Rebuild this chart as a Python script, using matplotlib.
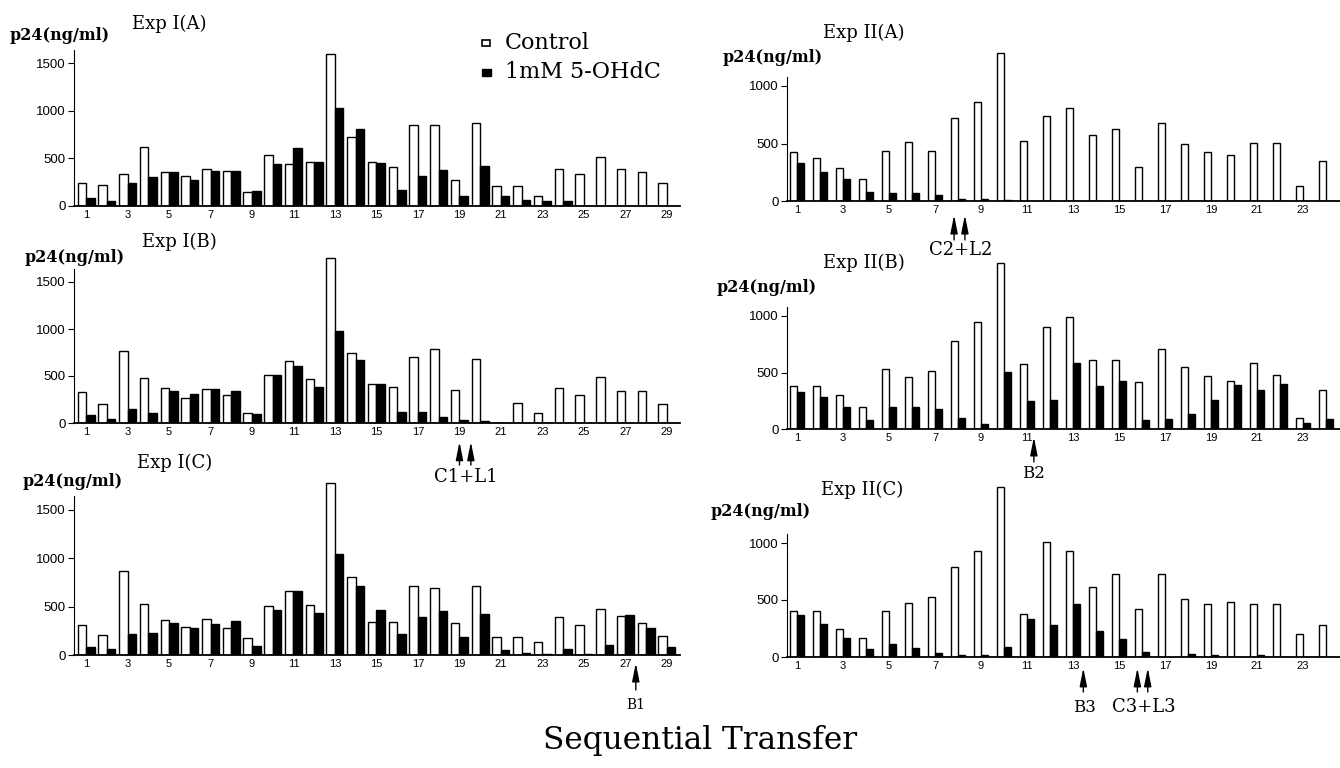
import matplotlib
matplotlib.use("Agg")
import matplotlib.pyplot as plt
from matplotlib.patches import Rectangle

# ---- data (p24 ng/ml per transfer) ----
cats_exp1 = list(range(1, 30))
cats_exp2 = list(range(1, 25))

ctrl_1a = [240, 220, 340, 620, 355, 310, 385, 370, 145, 530, 445, 465, 1600, 720, 458,
           405, 845, 845, 270, 870, 205, 205, 110, 385, 336, 517, 392, 360, 238]
trt_1a = [80, 55, 245, 300, 360, 270, 365, 367, 155, 440, 612, 458, 1025, 810, 450,
          165, 320, 380, 110, 420, 100, 65, 50, 55, 0, 0, 0, 0, 0]

ctrl_1b = [325, 207, 770, 482, 368, 268, 357, 296, 107, 511, 655, 468, 1750, 740, 411,
           379, 700, 790, 350, 680, 0, 210, 110, 370, 300, 485, 345, 345, 200]
trt_1b = [89, 46, 154, 107, 343, 307, 357, 339, 96, 511, 605, 379, 980, 665, 411,
          118, 118, 64, 28, 20, 0, 0, 0, 0, 0, 0, 0, 0, 0]

ctrl_1c = [310, 207, 872, 524, 359, 290, 369, 276, 172, 507, 662, 514, 1776, 810, 338,
           338, 714, 690, 328, 714, 185, 185, 138, 390, 314, 476, 407, 328, 200]
trt_1c = [79, 59, 214, 231, 328, 276, 317, 355, 97, 466, 662, 431, 1041, 717, 466,
          214, 390, 455, 190, 424, 52, 20, 14, 62, 14, 103, 414, 279, 79]

ctrl_2a = [423, 370, 283, 190, 437, 516, 431, 720, 860, 1285, 525, 743, 810, 574, 630,
           298, 680, 495, 428, 398, 502, 502, 134, 346]
trt_2a = [330, 248, 195, 82, 67, 73, 50, 15, 15, 6, 0, 0, 0, 0, 0,
          0, 0, 0, 0, 0, 0, 0, 0, 0]

ctrl_2b = [377, 377, 300, 195, 535, 460, 509, 780, 945, 1467, 571, 899, 991, 615, 615,
           420, 710, 550, 473, 426, 580, 479, 95, 349]
trt_2b = [326, 282, 195, 84, 195, 199, 178, 100, 44, 503, 251, 260, 586, 379, 426,
          83, 92, 136, 257, 388, 343, 399, 53, 89]

ctrl_2c = [406, 406, 247, 171, 406, 471, 524, 788, 926, 1494, 376, 1006, 926, 618, 726,
           418, 729, 509, 465, 485, 465, 465, 206, 285]
trt_2c = [365, 288, 171, 74, 112, 82, 35, 15, 18, 88, 329, 282, 465, 226, 159,
          44, 0, 24, 20, 0, 18, 0, 0, 0]

# ---- layout helpers (pixel coordinates of a 1340x768 canvas) ----
W, H = 1340, 768
SERIF = "DejaVu Serif"
SANS = "Liberation Sans"

fig = plt.figure(figsize=(W / 100, H / 100), dpi=100)
fig.patch.set_facecolor("white")


def fx(x):
    return x / W


def fy(y):
    return 1 - y / H


def make_panel(left, right, zero_y, ppu, ymax, xlim, cats, ctrl, trt,
               width, yticks, spine_top):
    h = ymax * ppu
    ax = fig.add_axes([fx(left), fy(zero_y), (right - left) / W, h / H])
    ax.bar([c - width / 2 for c in cats], ctrl, width, color="white",
           edgecolor="black", linewidth=1.0)
    ax.bar([c + width / 2 for c in cats], trt, width, color="black",
           edgecolor="black", linewidth=1.0)
    ax.set_xlim(*xlim)
    ax.set_ylim(0, ymax)
    for s in ("top", "right"):
        ax.spines[s].set_visible(False)
    ax.spines["bottom"].set_linewidth(1.3)
    ax.spines["left"].set_linewidth(0.8)
    ax.spines["left"].set_bounds(0, spine_top)
    ax.set_yticks(yticks)
    ax.set_xticks(cats[::2])
    ax.tick_params(axis="x", length=0, pad=3, labelsize=8)
    ax.tick_params(axis="y", length=4, width=0.8, labelsize=9.5, pad=2)
    for lab in ax.get_xticklabels() + ax.get_yticklabels():
        lab.set_family(SANS)
    ax.patch.set_visible(False)
    return ax


def up_arrow(ax, x, tip, tail):
    ax.annotate("", xy=(x, tip), xytext=(x, tail),
                arrowprops=dict(arrowstyle="-|>,head_length=1.1,head_width=0.22",
                                color="black", lw=1.0, shrinkA=0, shrinkB=0),
                annotation_clip=False)


def note(ax, x, y, s, size):
    ax.text(x, y, s, ha="center", va="center", fontsize=size,
            family=SERIF, clip_on=False)


left_xlim = (0.42, 29.63)
right_xlim = (0.565, 24.61)

ax1a = make_panel(74, 680, 206, 0.0953, 1800, left_xlim, cats_exp1, ctrl_1a, trt_1a,
                  0.41, [0, 500, 1000, 1500], 1640)
ax1b = make_panel(74, 680, 423, 0.094, 1800, left_xlim, cats_exp1, ctrl_1b, trt_1b,
                  0.41, [0, 500, 1000, 1500], 1640)
ax1c = make_panel(74, 680, 655, 0.0967, 1800, left_xlim, cats_exp1, ctrl_1c, trt_1c,
                  0.41, [0, 500, 1000, 1500], 1640)

ax2a = make_panel(787, 1340, 201, 0.115, 1550, right_xlim, cats_exp2, ctrl_2a, trt_2a,
                  0.32, [0, 500, 1000], 1080)
ax2b = make_panel(787, 1340, 429, 0.113, 1550, right_xlim, cats_exp2, ctrl_2b, trt_2b,
                  0.32, [0, 500, 1000], 1080)
ax2c = make_panel(787, 1340, 657, 0.114, 1550, right_xlim, cats_exp2, ctrl_2c, trt_2c,
                  0.32, [0, 500, 1000], 1080)

# panel titles and y labels
for x, y, s in [(132, 24, "Exp I(A)"), (142, 242, "Exp I(B)"), (137, 463, "Exp I(C)"),
                (823, 33, "Exp II(A)"), (823, 263, "Exp II(B)"), (821, 490, "Exp II(C)")]:
    fig.text(fx(x), fy(y), s, ha="left", va="center", fontsize=13, family=SERIF)

for x, y in [(10, 35), (25, 258), (23, 482), (723, 57), (717, 288), (711, 512)]:
    fig.text(fx(x), fy(y), "p24(ng/ml)", ha="left", va="center", fontsize=11.5,
             fontweight="bold", family=SERIF)

# legend
fig.add_artist(Rectangle((fx(482), fy(46)), 8 / W, 6 / H, transform=fig.transFigure,
                         facecolor="white", edgecolor="black", lw=1.2))
fig.add_artist(Rectangle((fx(482), fy(76)), 9 / W, 7 / H, transform=fig.transFigure,
                         facecolor="black", edgecolor="black", lw=1.0))
fig.text(fx(505), fy(43), "Control", ha="left", va="center", fontsize=16, family=SERIF)
fig.text(fx(505), fy(72), "1mM 5-OHdC", ha="left", va="center", fontsize=16, family=SERIF)

# treatment markers
up_arrow(ax1b, 19.0, -200, -447)
up_arrow(ax1b, 19.55, -200, -447)
note(ax1b, 19.3, -574, "C1+L1", 13)

up_arrow(ax1c, 27.5, -83, -362)
note(ax1c, 27.5, -517, "B1", 10)

up_arrow(ax2a, 7.83, -122, -339)
up_arrow(ax2a, 8.3, -122, -339)
note(ax2a, 8.1, -426, "C2+L2", 13)

up_arrow(ax2b, 11.3, -71, -292)
note(ax2b, 11.3, -398, "B2", 12)

up_arrow(ax2c, 13.45, -96, -307)
note(ax2c, 13.5, -439, "B3", 12)
up_arrow(ax2c, 15.8, -96, -307)
up_arrow(ax2c, 16.25, -96, -307)
note(ax2c, 16.1, -439, "C3+L3", 13)

fig.text(fx(700), fy(740), "Sequential Transfer", ha="center", va="center",
         fontsize=22.5, family=SERIF)

fig.savefig("out.png", dpi=100, facecolor="white")
